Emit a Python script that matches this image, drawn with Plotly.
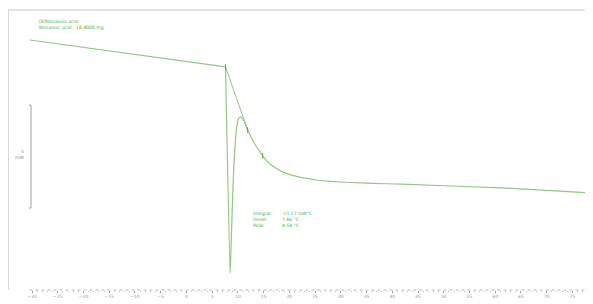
import plotly.graph_objects as go

# DSC curve (temperature in °C, heat flow in mW, arbitrary offset)
# pre-transition baseline segment
pre_t = [-30.4, 7.6]
pre_h = [0.0, -1.31]
# transition and post-transition
temp = [7.6, 8.44, 8.58, 8.71, 8.87, 8.97, 9.16, 9.36, 9.55, 9.75, 9.94, 10.14,
        10.43, 10.72, 11.11, 11.5, 11.89, 12.48, 13.26, 14.04, 14.81, 15.59, 16.76,
        18.32, 20.27, 22.22, 25.15, 28.07, 31.9, 36.0, 41.7, 61.2, 79.0]
heat = [-1.31, -11.31, -10.78, -9.71, -8.5, -7.67, -6.41, -5.44, -4.76, -4.27, -3.98, -3.83,
        -3.74, -3.76, -3.88, -4.13, -4.37, -4.66, -5.05, -5.34, -5.63, -5.87, -6.12,
        -6.36, -6.55, -6.67, -6.8, -6.87, -6.92, -6.96, -7.0, -7.18, -7.43]

# integration baseline (onset tangent)
base_t = [7.6, 11.89]
base_h = [-1.31, -4.37]
# limit markers
mark_t = [7.6, 11.89, 14.81]
mark_h = [-1.31, -4.37, -5.63]

tick_vals = list(range(-30, 85, 5))
minor_vals = list(range(-30, 80))
title_lines = ["[8]Nonanoic acid", "Nonanoic acid , 18.4000 mg"]
result_labels = ["Integral", "Onset", "Peak"]
result_values = ["-11.17 mW°C", "7.86 °C", "8.58 °C"]

LINE = "#93c585"
TXT = "#4caf3f"
GRAY = "#9a9a9a"

fig = go.Figure()
fig.add_trace(go.Scatter(x=pre_t, y=pre_h, mode="lines",
                         line=dict(color=LINE, width=1.2), hoverinfo="skip"))
fig.add_trace(go.Scatter(x=temp, y=heat, mode="lines",
                         line=dict(color=LINE, width=1.2, shape="spline", smoothing=0.15),
                         hoverinfo="skip"))
fig.add_trace(go.Scatter(x=base_t, y=base_h, mode="lines",
                         line=dict(color=LINE, width=1.0), hoverinfo="skip"))
fig.add_trace(go.Scatter(x=mark_t, y=mark_h, mode="markers",
                         marker=dict(symbol="line-ns", size=4, line=dict(color="#6a9a5a", width=1)),
                         hoverinfo="skip"))

# the page body has an 8px margin, so the figure is sized to fit the window from (8,8)
fig.update_layout(
    width=585, height=296,
    margin=dict(l=0, r=0, t=2, b=14),
    plot_bgcolor="white", paper_bgcolor="white",
    showlegend=False,
    font=dict(family="DejaVu Sans", size=5, color=GRAY),
    xaxis=dict(range=[-34.67, 79.0], showgrid=False, zeroline=False, showline=False,
               tickvals=tick_vals, ticks="outside", ticklen=2, tickcolor=GRAY,
               tickfont=dict(size=4.5, color=GRAY),
               minor=dict(tickvals=minor_vals, ticks="outside", ticklen=1, tickcolor="#bbbbbb")),
    yaxis=dict(range=[-12.14, 1.456], showgrid=False, zeroline=False, showline=False,
               showticklabels=False, ticks=""),
)

# frame lines (left and top) and bottom axis line
fig.add_shape(type="line", xref="paper", yref="paper", x0=0, x1=0, y0=0, y1=1,
              line=dict(color="#b0b0b0", width=1))
fig.add_shape(type="line", xref="paper", yref="paper", x0=0, x1=1, y0=1, y1=1,
              line=dict(color="#c8c8c8", width=1))
fig.add_shape(type="line", xref="x", yref="paper", x0=-30.5, x1=79.0, y0=0, y1=0,
              line=dict(color="#b8b8b8", width=1, dash="dot"))

# 5 mW scale bar
sx = -30.2
fig.add_shape(type="path", xref="x", yref="y",
              path=f"M {sx-0.4},-3.16 L {sx},-3.16 L {sx},-8.16 L {sx-0.4},-8.16",
              line=dict(color="#a0a0a0", width=1))
fig.add_annotation(x=-31.2, y=-5.55, xref="x", yref="y", text="5<br>mW", showarrow=False,
                   xanchor="right", align="right", font=dict(size=4.5, color="#888888"))

# sample title
fig.add_annotation(x=-29.0, y=1.1, xref="x", yref="y", text="<br>".join(title_lines),
                   showarrow=False, xanchor="left", yanchor="top", align="left",
                   font=dict(size=4.6, color=TXT))

# results
fig.add_annotation(x=12.6, y=-8.2, xref="x", yref="y", text="<br>".join(result_labels),
                   showarrow=False, xanchor="left", yanchor="top", align="left",
                   font=dict(size=4.5, color=TXT))
fig.add_annotation(x=18.1, y=-8.2, xref="x", yref="y", text="<br>".join(result_values),
                   showarrow=False, xanchor="left", yanchor="top", align="left",
                   font=dict(size=4.5, color=TXT))

fig.write_html("out.html")
